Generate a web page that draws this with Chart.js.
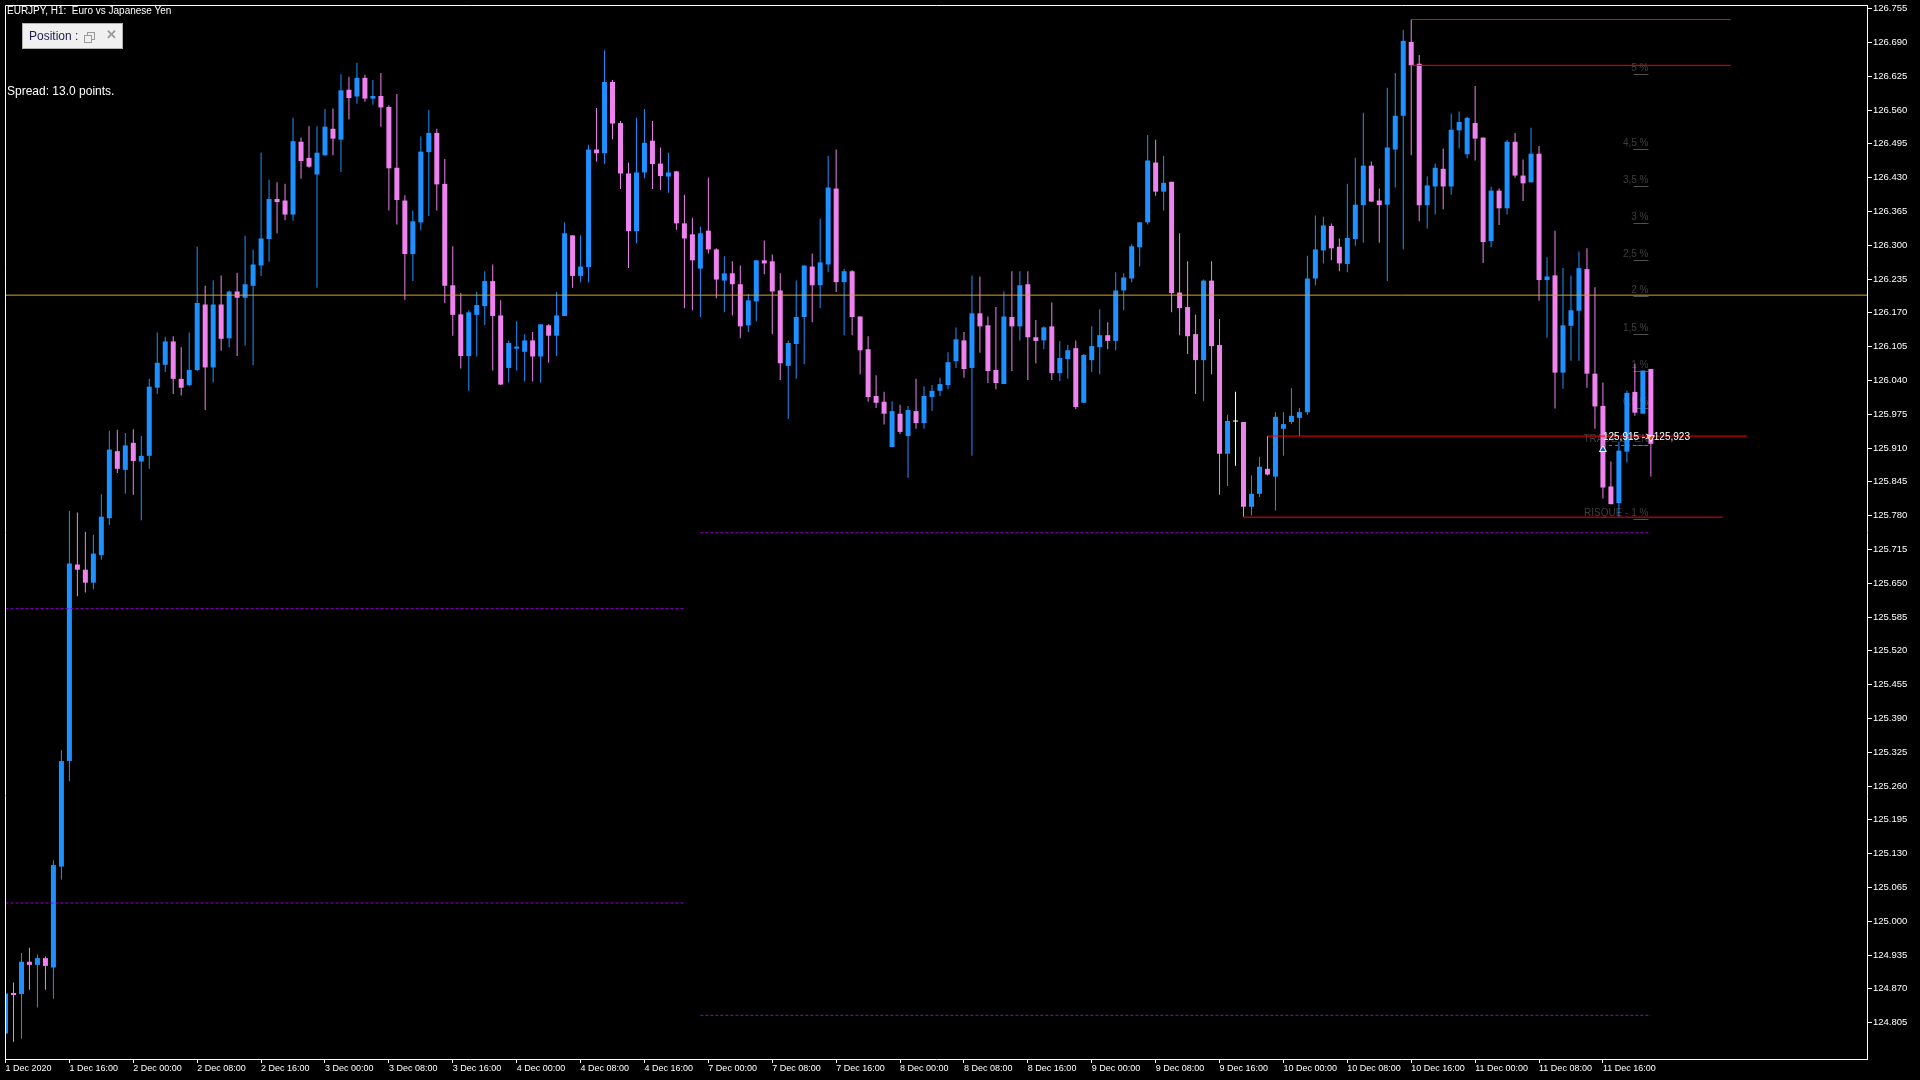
<!DOCTYPE html>
<html>
<head>
<meta charset="utf-8">
<title>EURJPY, H1</title>
<script src="https://cdn.jsdelivr.net/npm/chart.js@4.4.0/dist/chart.umd.min.js"></script>
<style>
  html, body { margin: 0; padding: 0; background: #000; }
  #wrap { position: relative; width: 1920px; height: 1080px; overflow: hidden; background: #000; }
  #priceChart { position: absolute; left: 0; top: 0; }
  .hud { position: absolute; color: #fff; font-family: "Liberation Sans", Arial, sans-serif; white-space: nowrap; }
  #title { left: 7px; top: 5px; font-size: 10px; }
  #spread { left: 7px; top: 84px; font-size: 12px; }
  #posBtn { left: 22px; top: 23px; width: 99px; height: 24px; background: #f0f0f0; border: 1px solid #b0b0b0; }
  #posText { position: absolute; left: 6px; top: 5px; font-size: 12px; color: #1e1e50; }
  #posRestore { position: absolute; left: 64px; top: 8px; width: 6px; height: 6px; border: 1px solid #9a9a9a; }
  #posRestore2 { position: absolute; left: 61px; top: 11px; width: 6px; height: 6px; border: 1px solid #9a9a9a; background: #f0f0f0; }
  #posClose { position: absolute; left: 83px; top: 3px; font-size: 13px; font-weight: bold; color: #9a9a9a; }
</style>
</head>
<body>
<div id="wrap">
  <canvas id="priceChart" width="1920" height="1080"></canvas>
  <div id="title" class="hud">EURJPY, H1:&nbsp; Euro vs Japanese Yen</div>
  <div id="posBtn" class="hud">
    <span id="posText">Position :</span>
    <span id="posRestore"></span><span id="posRestore2"></span>
    <span id="posClose">&#x2715;</span>
  </div>
  <div id="spread" class="hud">Spread: 13.0 points.</div>
</div>
<script>
// Time axis: a label every 8 hourly bars, first bar is 1 Dec 08:00
const tickBars = [0, 8, 16, 24, 32, 40, 48, 56, 64, 72, 80, 88, 96, 104, 112, 120, 128, 136, 144, 152, 160, 168, 176, 184, 192, 200];
const tickLabels = ['1 Dec 2020', '1 Dec 16:00', '2 Dec 00:00', '2 Dec 08:00', '2 Dec 16:00', '3 Dec 00:00', '3 Dec 08:00',
  '3 Dec 16:00', '4 Dec 00:00', '4 Dec 08:00', '4 Dec 16:00', '7 Dec 00:00', '7 Dec 08:00', '7 Dec 16:00', '8 Dec 00:00',
  '8 Dec 08:00', '8 Dec 16:00', '9 Dec 00:00', '9 Dec 08:00', '9 Dec 16:00', '10 Dec 00:00', '10 Dec 08:00', '10 Dec 16:00',
  '11 Dec 00:00', '11 Dec 08:00', '11 Dec 16:00'];

// Price axis labels
const priceTicks = [126.755, 126.690, 126.625, 126.560, 126.495, 126.430, 126.365, 126.300, 126.235, 126.170, 126.105,
  126.040, 125.975, 125.910, 125.845, 125.780, 125.715, 125.650, 125.585, 125.520, 125.455, 125.390, 125.325, 125.260,
  125.195, 125.130, 125.065, 125.000, 124.935, 124.870, 124.805];

// OHLC, one value per hourly bar
const barOpen = [
  124.784, 124.862, 124.860, 124.922, 124.916, 124.929, 124.911, 125.105, 125.308, 125.686,
  125.676, 125.651, 125.704, 125.775, 125.904, 125.868, 125.920, 125.884, 125.895, 126.026,
  126.070, 126.115, 126.043, 126.031, 126.060, 126.186, 126.065, 126.186, 126.121, 126.211,
  126.199, 126.222, 126.261, 126.312, 126.389, 126.386, 126.359, 126.499, 126.468, 126.436,
  126.473, 126.524, 126.503, 126.599, 126.586, 126.622, 126.582, 126.587, 126.566, 126.449,
  126.386, 126.283, 126.344, 126.479, 126.516, 126.418, 126.223, 126.167, 126.087, 126.166,
  126.183, 126.231, 126.165, 126.064, 126.101, 126.095, 126.117, 126.086, 126.146, 126.126,
  126.164, 126.319, 126.241, 126.258, 126.484, 126.477, 126.614, 126.535, 126.438, 126.327,
  126.440, 126.501, 126.457, 126.432, 126.442, 126.342, 126.321, 126.255, 126.328, 126.292,
  126.232, 126.246, 126.225, 126.146, 126.192, 126.271, 126.269, 126.213, 126.068, 126.110,
  126.162, 126.259, 126.223, 126.263, 126.409, 126.229, 126.250, 126.163, 126.100, 126.010,
  125.999, 125.912, 125.976, 125.933, 125.981, 125.958, 126.008, 126.020, 126.031, 126.077,
  126.117, 126.064, 126.169, 126.146, 126.060, 126.033, 126.162, 126.144, 126.225, 126.123,
  126.117, 126.144, 126.054, 126.081, 126.102, 125.997, 126.079, 126.104, 126.127, 126.116,
  126.213, 126.236, 126.296, 126.344, 126.459, 126.403, 126.422, 126.209, 126.181, 126.129,
  126.079, 126.232, 126.108, 125.899, 125.961, 125.960, 125.797, 125.822, 125.870, 125.855,
  125.947, 125.960, 125.968, 125.979, 126.236, 126.290, 126.337, 126.297, 126.264, 126.312,
  126.377, 126.453, 126.386, 126.378, 126.484, 126.549, 126.691, 126.649, 126.377, 126.413,
  126.447, 126.413, 126.521, 126.475, 126.535, 126.507, 126.308, 126.405, 126.371, 126.499,
  126.434, 126.421, 126.476, 126.233, 126.242, 126.055, 126.145, 126.174, 126.254, 126.053,
  125.991, 125.836, 125.804, 125.903, 126.018, 125.976, 126.062];
const barHigh = [
  124.865, 124.882, 124.939, 124.949, 124.936, 124.932, 125.117, 125.329, 125.789, 125.786,
  125.749, 125.743, 125.821, 125.943, 125.945, 125.939, 125.946, 125.933, 126.043, 126.132,
  126.124, 126.125, 126.104, 126.132, 126.297, 126.222, 126.232, 126.242, 126.213, 126.247,
  126.318, 126.292, 126.478, 126.426, 126.421, 126.418, 126.545, 126.507, 126.529, 126.529,
  126.562, 126.563, 126.629, 126.624, 126.651, 126.628, 126.618, 126.631, 126.569, 126.591,
  126.396, 126.367, 126.509, 126.560, 126.524, 126.466, 126.298, 126.208, 126.175, 126.210,
  126.250, 126.263, 126.194, 126.117, 126.154, 126.129, 126.133, 126.148, 126.148, 126.210,
  126.344, 126.319, 126.319, 126.493, 126.564, 126.675, 126.618, 126.539, 126.459, 126.545,
  126.562, 126.539, 126.488, 126.478, 126.443, 126.397, 126.353, 126.336, 126.430, 126.294,
  126.279, 126.269, 126.261, 126.206, 126.271, 126.309, 126.282, 126.246, 126.117, 126.232,
  126.261, 126.284, 126.351, 126.472, 126.484, 126.255, 126.252, 126.163, 126.125, 126.050,
  126.018, 126.000, 125.993, 125.991, 126.043, 126.029, 126.031, 126.045, 126.094, 126.142,
  126.133, 126.242, 126.240, 126.163, 126.181, 126.211, 126.250, 126.250, 126.250, 126.156,
  126.144, 126.190, 126.116, 126.108, 126.117, 126.091, 126.144, 126.177, 126.152, 126.248,
  126.246, 126.302, 126.344, 126.512, 126.503, 126.472, 126.422, 126.323, 126.269, 126.167,
  126.234, 126.269, 126.158, 125.974, 126.018, 125.960, 125.857, 125.893, 125.933, 125.979,
  125.979, 126.025, 125.987, 126.280, 126.357, 126.355, 126.342, 126.313, 126.418, 126.468,
  126.555, 126.461, 126.409, 126.603, 126.631, 126.714, 126.734, 126.666, 126.432, 126.457,
  126.486, 126.553, 126.557, 126.547, 126.606, 126.507, 126.413, 126.409, 126.503, 126.516,
  126.465, 126.526, 126.491, 126.277, 126.328, 126.256, 126.242, 126.288, 126.294, 126.219,
  126.036, 125.884, 125.922, 126.020, 126.072, 126.059, 126.062];
const barLow = [
  124.775, 124.768, 124.774, 124.868, 124.834, 124.868, 124.851, 125.080, 125.269, 125.625,
  125.632, 125.638, 125.695, 125.762, 125.862, 125.822, 125.820, 125.771, 125.870, 126.014,
  126.056, 126.014, 126.011, 126.029, 126.058, 125.983, 126.036, 126.097, 126.104, 126.087,
  126.107, 126.069, 126.241, 126.268, 126.323, 126.348, 126.347, 126.428, 126.449, 126.218,
  126.472, 126.473, 126.441, 126.542, 126.572, 126.576, 126.570, 126.528, 126.367, 126.340,
  126.195, 126.231, 126.329, 126.356, 126.367, 126.189, 126.126, 126.063, 126.020, 126.086,
  126.147, 126.059, 126.031, 126.036, 126.059, 126.038, 126.038, 126.036, 126.074, 126.087,
  126.164, 126.218, 126.229, 126.229, 126.461, 126.456, 126.504, 126.408, 126.256, 126.304,
  126.429, 126.408, 126.406, 126.401, 126.330, 126.179, 126.175, 126.162, 126.284, 126.198,
  126.171, 126.165, 126.121, 126.133, 126.154, 126.244, 126.129, 126.041, 125.966, 126.043,
  126.071, 126.152, 126.179, 126.248, 126.210, 126.127, 126.127, 126.052, 125.999, 125.987,
  125.955, 125.912, 125.937, 125.853, 125.947, 125.947, 125.981, 126.010, 126.023, 126.064,
  126.045, 125.895, 126.093, 126.035, 126.023, 126.033, 126.058, 126.117, 126.041, 126.073,
  126.100, 126.041, 126.039, 126.043, 125.985, 125.997, 126.056, 126.052, 126.100, 126.098,
  126.175, 126.229, 126.259, 126.340, 126.395, 126.367, 126.171, 126.127, 126.091, 126.014,
  126.000, 126.052, 125.820, 125.837, 125.876, 125.778, 125.780, 125.816, 125.857, 125.790,
  125.895, 125.956, 125.933, 125.974, 126.223, 126.265, 126.271, 126.250, 126.248, 126.299,
  126.305, 126.383, 126.305, 126.231, 126.411, 126.292, 126.473, 126.346, 126.332, 126.359,
  126.369, 126.397, 126.486, 126.467, 126.463, 126.266, 126.296, 126.339, 126.359, 126.430,
  126.385, 126.421, 126.193, 126.122, 125.986, 126.024, 126.078, 126.078, 126.026, 125.947,
  125.813, 125.802, 125.778, 125.882, 125.972, 125.976, 125.855];
const barClose = [
  124.861, 124.858, 124.922, 124.916, 124.929, 124.914, 125.108, 125.308, 125.688, 125.676,
  125.651, 125.707, 125.778, 125.907, 125.870, 125.915, 125.885, 125.895, 126.028, 126.074,
  126.115, 126.043, 126.026, 126.060, 126.189, 126.065, 126.186, 126.120, 126.211, 126.199,
  126.225, 126.263, 126.313, 126.389, 126.383, 126.359, 126.500, 126.462, 126.451, 126.478,
  126.528, 126.505, 126.598, 126.583, 126.622, 126.582, 126.587, 126.565, 126.448, 126.387,
  126.283, 126.346, 126.480, 126.516, 126.417, 126.222, 126.166, 126.087, 126.171, 126.185,
  126.231, 126.164, 126.032, 126.112, 126.105, 126.117, 126.086, 126.148, 126.126, 126.165,
  126.323, 126.241, 126.259, 126.484, 126.477, 126.614, 126.534, 126.438, 126.327, 126.440,
  126.497, 126.456, 126.433, 126.440, 126.342, 126.313, 126.271, 126.323, 126.292, 126.234,
  126.246, 126.225, 126.144, 126.194, 126.271, 126.265, 126.211, 126.073, 126.112, 126.162,
  126.261, 126.223, 126.267, 126.411, 126.229, 126.250, 126.162, 126.098, 126.008, 125.997,
  125.976, 125.981, 125.941, 125.983, 125.958, 126.010, 126.020, 126.033, 126.075, 126.119,
  126.062, 126.169, 126.144, 126.058, 126.035, 126.163, 126.144, 126.223, 126.123, 126.116,
  126.142, 126.054, 126.083, 126.098, 125.989, 126.089, 126.106, 126.127, 126.116, 126.213,
  126.238, 126.298, 126.344, 126.463, 126.403, 126.420, 126.208, 126.179, 126.125, 126.079,
  126.232, 126.106, 125.899, 125.962, 125.961, 125.797, 125.822, 125.874, 125.859, 125.970,
  125.956, 125.972, 125.979, 126.236, 126.292, 126.338, 126.294, 126.265, 126.314, 126.378,
  126.453, 126.384, 126.377, 126.488, 126.549, 126.693, 126.646, 126.377, 126.415, 126.449,
  126.413, 126.522, 126.537, 126.545, 126.505, 126.306, 126.405, 126.371, 126.499, 126.434,
  126.419, 126.476, 126.233, 126.240, 126.055, 126.146, 126.175, 126.256, 126.053, 125.990,
  125.834, 125.802, 125.905, 126.016, 125.978, 126.059, 125.918];

// Horizontal objects on the chart (price, first bar, last bar)
const bidPrice = 126.204;
const redPrice = [126.734, 126.646, 125.933, 125.777];
const redFrom = [176, 176, 158, 155];
const redTo = [216, 216, 218, 215];
const rangePrice = [125.601, 125.035, 125.747, 124.819];
const rangeFrom = [0, 0, 87, 87];
const rangeTo = [85, 85, 206, 206];
const entryPrice = 125.915;
const entryBars = [200, 206];

// Risk ladder labels of the position tool
const pctLabels = ['5 %', '4,5 %', '3,5 %', '3 %', '2,5 %', '2 %', '1,5 %', '1 %', '0,5 %', 'TRADE OPEN', 'RISQUE - 1 %'];
const pctPrices = [126.640, 126.496, 126.425, 126.355, 126.284, 126.213, 126.140, 126.070, 125.999, 125.927, 125.786];
const pctBar = 205.7;
const tradeText = '125,915 -> 125,923';
const tradeTextPrice = 125.931;
const tradeArrowUp = { x: 200, y: 125.907 };
const tradeArrowDown = { x: 206, y: 125.930 };

const X_MIN = -0.0625;
const X_MAX = 233.0625;

const UP = '#1E90FF';
const DOWN = '#EE82EE';

function candleColor(i) {
    if (barOpen[i] === barClose[i]) return '#FFFFFF';
    return barClose[i] > barOpen[i] ? UP : DOWN;
}

const bodies = barOpen.map((o, i) => ({ x: i, y: [o, barClose[i]] }));
const wicks = barOpen.map((o, i) => ({ x: i, y: [barLow[i], barHigh[i]] }));

function levelLine(price, from, to, color, dash) {
    return {
        type: 'line',
        data: [{ x: from, y: price }, { x: to, y: price }],
        borderColor: color,
        borderWidth: 1,
        borderDash: dash || [],
        pointRadius: 0,
        fill: false,
        order: 0
    };
}

const datasets = [
    {
        label: 'body',
        data: bodies,
        backgroundColor: ctx => candleColor(ctx.dataIndex),
        borderWidth: 0,
        grouped: false,
        maxBarThickness: 5,
        minBarLength: 1,
        inflateAmount: 0,
        order: 1
    },
    {
        label: 'wick',
        data: wicks,
        backgroundColor: ctx => candleColor(ctx.dataIndex),
        borderWidth: 0,
        grouped: false,
        maxBarThickness: 1,
        minBarLength: 1,
        inflateAmount: 0,
        order: 2
    },
    levelLine(bidPrice, X_MIN, X_MAX, '#DAA520')
];
redPrice.forEach((p, i) => datasets.push(levelLine(p, redFrom[i], redTo[i], '#FF0000')));
rangePrice.forEach((p, i) => datasets.push(levelLine(p, rangeFrom[i], rangeTo[i], '#9400D3', [3, 2])));
datasets.push(levelLine(entryPrice, entryBars[0], entryBars[1], '#1E90FF', [3, 3]));
datasets.push({
    type: 'scatter',
    data: [tradeArrowUp],
    pointStyle: 'triangle',
    pointRadius: 4,
    pointBackgroundColor: '#1565C0',
    pointBorderColor: '#FFFFFF',
    pointBorderWidth: 1,
    order: -1
});
datasets.push({
    type: 'scatter',
    data: [tradeArrowDown],
    pointStyle: 'triangle',
    rotation: 180,
    pointRadius: 4,
    pointBackgroundColor: '#E03A1E',
    pointBorderColor: '#FFFFFF',
    pointBorderWidth: 1,
    order: -1
});

// White frame on the left and top edges of the plot
const framePlugin = {
    id: 'frame',
    afterDraw(chart) {
        const { ctx, chartArea: a } = chart;
        ctx.save();
        ctx.strokeStyle = '#FFFFFF';
        ctx.lineWidth = 1;
        ctx.beginPath();
        ctx.moveTo(a.left + 0.5, a.bottom);
        ctx.lineTo(a.left + 0.5, a.top + 0.5);
        ctx.lineTo(a.right, a.top + 0.5);
        ctx.stroke();
        ctx.restore();
    }
};

// Ladder labels sit behind the candles, trade prices in front
const labelPlugin = {
    id: 'ladder',
    beforeDatasetsDraw(chart) {
        const { ctx, scales: { x, y } } = chart;
        const px = x.getPixelForValue(pctBar);
        ctx.save();
        ctx.font = '10px "Liberation Sans"';
        ctx.textAlign = 'right';
        ctx.textBaseline = 'middle';
        pctLabels.forEach((t, i) => {
            const py = Math.round(y.getPixelForValue(pctPrices[i]));
            ctx.fillStyle = '#3E3E3E';
            ctx.fillText(t, px, py);
            ctx.strokeStyle = '#505050';
            ctx.beginPath();
            ctx.moveTo(px - 15, py + 6.5);
            ctx.lineTo(px, py + 6.5);
            ctx.stroke();
        });
        ctx.restore();
    },
    afterDatasetsDraw(chart) {
        const { ctx, scales: { x, y } } = chart;
        ctx.save();
        ctx.font = '10px "Liberation Sans"';
        ctx.textAlign = 'left';
        ctx.textBaseline = 'middle';
        ctx.fillStyle = '#FFFFFF';
        ctx.fillText(tradeText, x.getPixelForValue(tradeArrowUp.x), y.getPixelForValue(tradeTextPrice));
        ctx.restore();
    }
};

// Keep the plot edges fixed: no extra room for overhanging tick labels
function noLabelPadding(scale) {
    scale.paddingTop = 0;
    scale.paddingBottom = 0;
    scale.paddingLeft = 0;
    scale.paddingRight = 0;
}

Chart.defaults.font.family = '"Liberation Sans", Arial, sans-serif';

new Chart(document.getElementById('priceChart'), {
    type: 'bar',
    data: { datasets: datasets },
    options: {
        responsive: false,
        devicePixelRatio: 1,
        animation: false,
        layout: { padding: { left: 2, top: 2, right: 0, bottom: 0 } },
        plugins: {
            legend: { display: false },
            tooltip: { enabled: false }
        },
        scales: {
            x: {
                type: 'linear',
                min: X_MIN,
                max: X_MAX,
                offset: false,
                grid: { drawOnChartArea: false, drawTicks: true, tickLength: 4, tickColor: '#FFFFFF', offset: false },
                border: { display: true, color: '#FFFFFF', width: 1 },
                ticks: {
                    color: '#FFFFFF',
                    font: { size: 9 },
                    autoSkip: false,
                    maxRotation: 0,
                    minRotation: 0,
                    align: 'start',
                    padding: 0,
                    callback: (value, index) => tickLabels[index]
                },
                afterBuildTicks: scale => { scale.ticks = tickBars.map(v => ({ value: v })); },
                afterFit: scale => { scale.height = 21; noLabelPadding(scale); }
            },
            y: {
                type: 'linear',
                position: 'right',
                min: 124.735,
                max: 126.762,
                grid: { drawOnChartArea: false, drawTicks: true, tickLength: 5, tickColor: '#FFFFFF' },
                border: { display: true, color: '#FFFFFF', width: 1 },
                ticks: {
                    color: '#FFFFFF',
                    font: { size: 9.5 },
                    autoSkip: false,
                    padding: 1,
                    callback: value => value.toFixed(3)
                },
                afterBuildTicks: scale => { scale.ticks = priceTicks.map(v => ({ value: v })); },
                afterFit: scale => { scale.width = 53; noLabelPadding(scale); }
            }
        }
    },
    plugins: [framePlugin, labelPlugin]
});
</script>
</body>
</html>
